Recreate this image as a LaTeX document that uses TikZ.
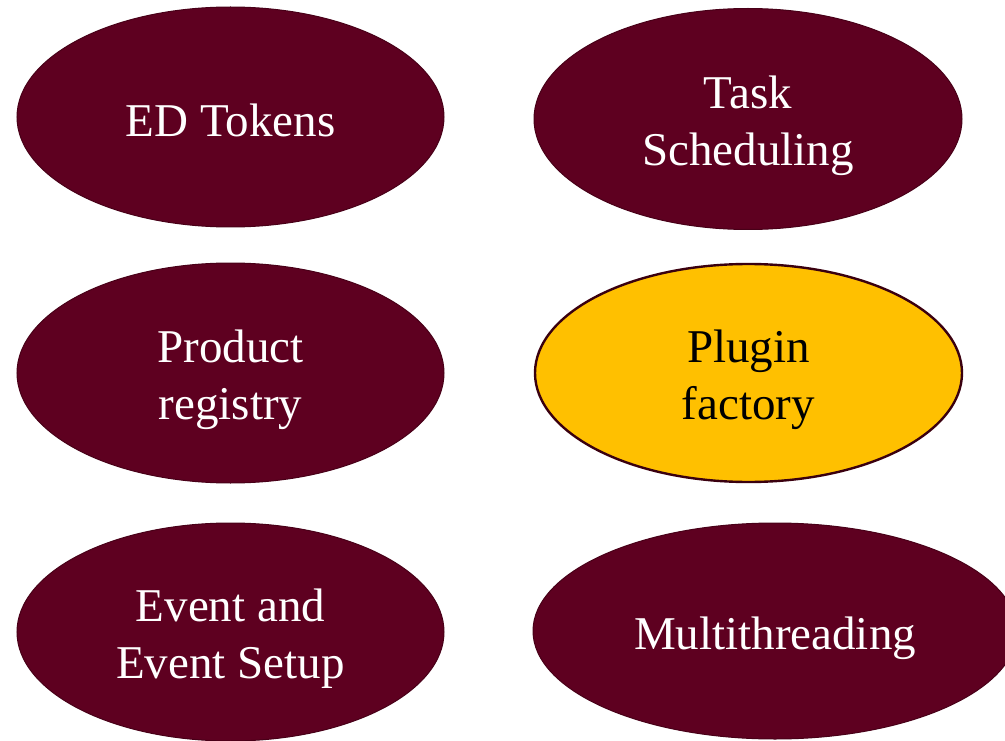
\documentclass[tikz,border=0pt]{standalone}
\usepackage{fontspec}
\setmainfont{Liberation Serif}
\usetikzlibrary{shapes.geometric}
\definecolor{maroon}{HTML}{5E0020}
\definecolor{maroonline}{HTML}{480018}
\definecolor{focusline}{HTML}{3A000F}
\definecolor{amber}{HTML}{FFC000}
\tikzset{
  topic/.style={ellipse, inner sep=0pt, fill=maroon, draw=maroonline, line width=1pt},
  focus/.style={topic, fill=amber, draw=focusline, line width=2.4pt},
  caption/.style={inner sep=0pt, text=white, align=center, font=\fontsize{47}{57}\selectfont},
  darkcaption/.style={caption, text=black}
}
\begin{document}
\begin{tikzpicture}[x=1pt,y=-1pt]
  \useasboundingbox (0,0) rectangle (1005,741);
  % ellipses
  \node[topic, minimum width=427pt, minimum height=220pt] (tokens) at (230.5,117) {};
  \node[topic, minimum width=428pt, minimum height=221pt] (sched) at (748,119) {};
  \node[topic, minimum width=427pt, minimum height=220pt] (registry) at (230.5,373) {};
  \node[focus, minimum width=427pt, minimum height=218pt] (plugin) at (748.5,373) {};
  \node[topic, minimum width=427pt, minimum height=218pt] (event) at (230.5,632) {};
  \node[topic, minimum width=484pt, minimum height=216pt] (threads) at (775,631) {};
  % labels
  \node[caption] (tokens-text) at ([yshift=-3pt]tokens.center) {ED Tokens};
  \node[caption] (sched-text) at ([yshift=-7pt]sched.center) {Task\\Scheduling};
  \node[caption] (registry-text) at ([yshift=-7pt]registry.center) {Product\\registry};
  \node[darkcaption] (plugin-text) at ([yshift=-7pt]plugin.center) {Plugin\\factory};
  \node[caption] (event-text) at ([yshift=-7pt]event.center) {Event and\\Event Setup};
  \node[caption] (threads-text) at ([yshift=-7pt]threads.center) {Multithreading};
\end{tikzpicture}
\end{document}
